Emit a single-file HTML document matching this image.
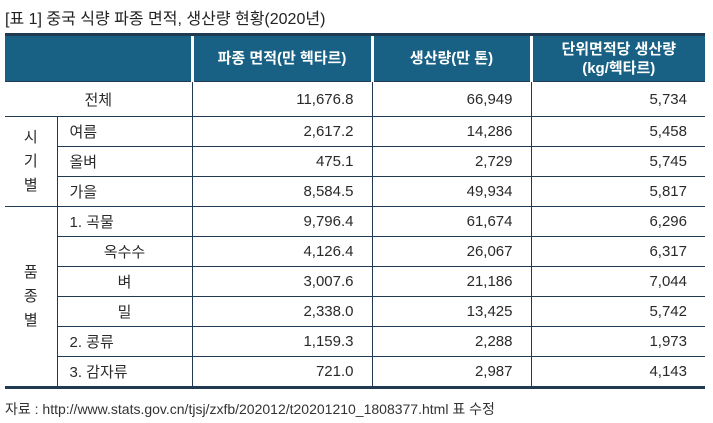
<!DOCTYPE html>
<html><head><meta charset="utf-8"><style>
body{margin:0;width:713px;height:423px;background:#fff;font-family:"Liberation Sans","Noto Sans CJK KR",sans-serif;color:#2a2a2a;position:relative;overflow:hidden}
.title{position:absolute;left:5px;top:5px;font-size:16px;color:#222}
table{position:absolute;left:5px;top:33px;width:700px;border-collapse:collapse;table-layout:fixed;font-size:15px;border-bottom:3px solid #1f3a52}
thead th{background:#186185;color:#fff;font-weight:bold;height:45px;padding:0;border-top:3px solid #1f3a52;border-bottom:1px solid #1f3a52;border-left:3px solid #fff;line-height:19px}
thead th:first-child{border-left:none}
td{border:1px solid #1f3a52;height:29px;padding:0;text-align:right;padding-right:18px}
td.l{text-align:left;padding-left:12px;padding-right:0}
td.c{text-align:center;padding:0}
td.g{text-align:center;padding:0;line-height:24px;border-left:none;border-bottom:3px solid #1f3a52}
tr.first td{height:34px;border-top:none}
tr:last-child td{border-bottom:3px solid #1f3a52}
td:last-child{border-right:none}
.src{position:absolute;left:5px;top:399px;font-size:14px;color:#333}
</style></head><body>
<div class="title">[표 1] 중국 식량 파종 면적, 생산량 현황(2020년)</div>
<table>
<colgroup><col style="width:52px"><col style="width:135px"><col style="width:180px"><col style="width:159px"><col style="width:174px"></colgroup>
<thead><tr><th colspan="2"></th><th>파종 면적(만 헥타르)</th><th>생산량(만 톤)</th><th>단위면적당 생산량<br>(kg/헥타르)</th></tr></thead>
<tbody>
<tr class="first"><td class="c" colspan="2" style="border-left:none">전체</td><td>11,676.8</td><td>66,949</td><td>5,734</td></tr>
<tr><td class="g" rowspan="3" style="border-bottom:1px solid #1f3a52">시<br>기<br>별</td><td class="l">여름</td><td>2,617.2</td><td>14,286</td><td>5,458</td></tr>
<tr><td class="l">올벼</td><td>475.1</td><td>2,729</td><td>5,745</td></tr>
<tr><td class="l">가을</td><td>8,584.5</td><td>49,934</td><td>5,817</td></tr>
<tr><td class="g" rowspan="6">품<br>종<br>별</td><td class="l">1. 곡물</td><td>9,796.4</td><td>61,674</td><td>6,296</td></tr>
<tr><td class="c">옥수수</td><td>4,126.4</td><td>26,067</td><td>6,317</td></tr>
<tr><td class="c">벼</td><td>3,007.6</td><td>21,186</td><td>7,044</td></tr>
<tr><td class="c">밀</td><td>2,338.0</td><td>13,425</td><td>5,742</td></tr>
<tr><td class="l">2. 콩류</td><td>1,159.3</td><td>2,288</td><td>1,973</td></tr>
<tr><td class="l">3. 감자류</td><td>721.0</td><td>2,987</td><td>4,143</td></tr>
</tbody></table>
<div class="src">자료 : http://www.stats.gov.cn/tjsj/zxfb/202012/t20201210_1808377.html 표 수정</div>
</body></html>
